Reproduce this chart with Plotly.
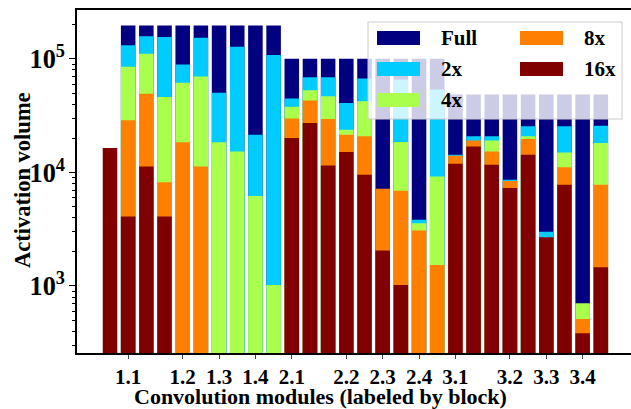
import plotly.graph_objects as go

# ---- data ----
series_names = ["Full", "2x", "4x", "8x", "16x"]
series_colors = ["#000080", "#00ccff", "#aaff4d", "#ff8000", "#800000"]

full = [None] + [1.97e5] * 9 + [1.0e5] * 9 + [4.85e4] * 9
x2 = [None, 1.32e5, 1.58e5, 1.56e5, 8.93e4, 1.53e5, 5.02e4, 1.28e5, 2.15e4, 1.08e5,
      4.47e4, 6.9e4, 6.9e4, 4.09e4, 6.71e4, None, 6.58e4, 3.83e3, 5.37e4,
      1.43e4, 2.08e4, 2.08e4, 8.63e3, 2.55e4, 3.01e3, 2.55e4, None, 2.58e4]
x4 = [None, 8.5e4, 1.11e5, 4.62e4, 6.15e4, 7.0e4, 1.84e4, 1.53e4, 6.2e3, 1.02e3,
      3.78e4, 5.3e4, 4.69e4, 2.38e4, 4.24e4, None, 1.85e4, 3.57e3, 9.2e3,
      None, None, 1.91e4, None, 2.08e4, None, 1.50e4, 7.03e2, 1.82e4]
x8 = [None, 2.88e4, 4.92e4, 8.2e3, 1.84e4, 1.13e4, None, None, None, None,
      2.98e4, 4.3e4, 2.96e4, 2.15e4, 2.08e4, 7.18e3, 6.89e3, 3.08e3, 1.53e3,
      1.40e4, 1.91e4, 1.53e4, 8.4e3, 1.97e4, None, 1.11e4, 5.12e2, 7.78e3]
x16 = [1.64e4, 4.09e3, 1.13e4, 4.09e3, None, None, None, None, None, None,
       2.01e4, 2.73e4, 1.15e4, 1.51e4, 9.55e3, 2.05e3, 1.02e3, None, None,
       1.19e4, 1.69e4, 1.17e4, 7.28e3, 1.43e4, 2.69e3, 7.78e3, 3.84e2, 1.46e3]

tick_positions = [1, 4, 6, 8, 10, 13, 15, 17, 19, 22, 24, 26]
tick_labels = ["1.1", "1.2", "1.3", "1.4", "2.1", "2.2", "2.3", "2.4",
               "3.1", "3.2", "3.3", "3.4"]

series_values = [full, x2, x4, x8, x16]
positions = list(range(len(full)))

FONT = "Liberation Serif"
W, H = 631, 409
L, R, T, B = 77, 0, 10, 56
PW, PH = W - L - R, H - T - B

fig = go.Figure()
for name, color, vals in zip(series_names, series_colors, series_values):
    fig.add_trace(go.Bar(x=positions, y=vals, name=name, width=0.8,
                         marker=dict(color=color, line=dict(width=0)),
                         showlegend=False))

# ---- custom legend (two columns, column-major like the reference) ----
def px_x(p):
    return (p - L) / PW

def px_y(p):
    return (H - B - p) / PH

shapes = [dict(type="rect", xref="paper", yref="paper", layer="above",
               x0=px_x(368), x1=px_x(622), y0=px_y(119), y1=px_y(22),
               fillcolor="rgba(255,255,255,0.8)", line=dict(color="#cccccc", width=1))]
annotations = []
slots = [(377, 439, 38), (377, 439, 69), (377, 439, 100), (520, 582, 38), (520, 582, 69)]
for (sx, tx, cy), name, color in zip(slots, series_names, series_colors):
    shapes.append(dict(type="rect", xref="paper", yref="paper", layer="above",
                       x0=px_x(sx), x1=px_x(sx + 43), y0=px_y(cy + 7), y1=px_y(cy - 7),
                       fillcolor=color, line=dict(width=0)))
    annotations.append(dict(xref="paper", yref="paper", x=px_x(tx), y=px_y(cy),
                            text="<b>%s</b>" % name, showarrow=False,
                            xanchor="left", yanchor="middle",
                            font=dict(family=FONT, size=21, color="black")))

# axis titles
annotations.append(dict(xref="paper", yref="paper", x=px_x(320), y=px_y(396),
                        text="<b>Convolution modules (labeled by block)</b>", showarrow=False,
                        xanchor="center", yanchor="middle",
                        font=dict(family=FONT, size=22, color="black")))
annotations.append(dict(xref="paper", yref="paper", x=px_x(22), y=px_y(180),
                        text="<b>Activation volume</b>", showarrow=False, textangle=-90,
                        xanchor="center", yanchor="middle",
                        font=dict(family=FONT, size=22.5, color="black")))

fig.update_layout(
    width=W, height=H,
    margin=dict(l=L, r=R, t=T, b=B, pad=0),
    plot_bgcolor="white", paper_bgcolor="white",
    barmode="overlay",
    font=dict(family=FONT, size=21, color="black"),
    shapes=shapes, annotations=annotations,
    xaxis=dict(range=[-1.815, 28.66], tickvals=tick_positions, ticktext=tick_labels,
               tickfont=dict(family=FONT, size=21, weight="bold"),
               ticks="outside", ticklen=4, tickwidth=1.2, tickcolor="#444",
               showline=True, linecolor="black", linewidth=1.5, mirror=True,
               showgrid=False, zeroline=False, automargin=False),
    yaxis=dict(type="log", range=[2.41, 5.43], dtick=1, exponentformat="power",
               tickfont=dict(family=FONT, size=21, weight="bold"),
               ticks="outside", ticklen=6, tickwidth=1.2, tickcolor="black",
               minor=dict(ticks="outside", ticklen=3, tickcolor="black", dtick="D1",
                          showgrid=False),
               showline=True, linecolor="black", linewidth=1.5, mirror=False,
               showgrid=False, zeroline=False, automargin=False),
)

fig.write_html("out.html", config={"displayModeBar": False},
               post_script="document.body.style.margin='0px';"
                           "document.body.style.overflow='hidden';")
